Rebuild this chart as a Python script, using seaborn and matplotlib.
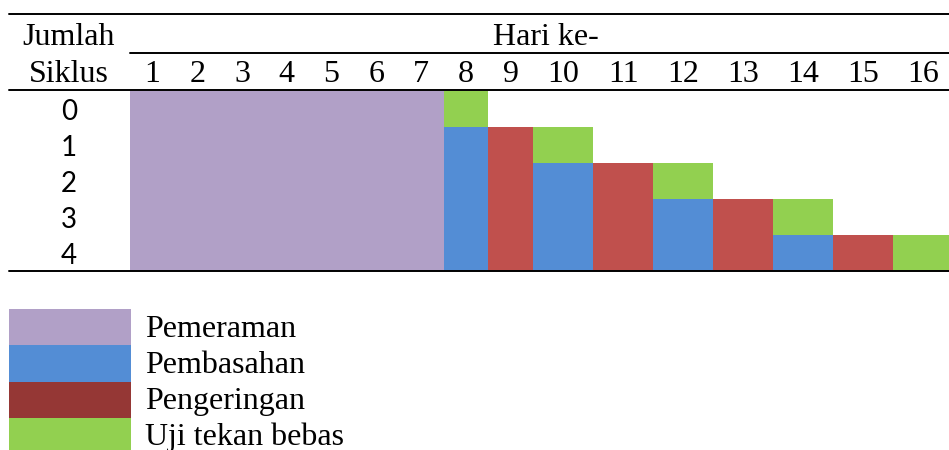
import matplotlib
matplotlib.use("Agg")
import matplotlib.pyplot as plt
import seaborn as sns
import numpy as np

# phases and colours
phases = ["Pemeraman", "Pembasahan", "Pengeringan", "Uji tekan bebas"]
phase_colors = ["#B1A0C7", "#538DD5", "#C0504D", "#92D050"]
legend_colors = ["#B1A0C7", "#538DD5", "#953735", "#92D050"]

cycles = [0, 1, 2, 3, 4]
days = list(range(1, 17))

# schedule: one entry per block (cycle row, phase index, first day, last day)
task_cycle = [0, 1, 2, 3, 4,
              0,
              1, 1, 1,
              2, 2, 2, 2, 2,
              3, 3, 3, 3, 3, 3, 3,
              4, 4, 4, 4, 4, 4, 4, 4, 4]
task_phase = [0, 0, 0, 0, 0,
              3,
              1, 2, 3,
              1, 2, 1, 2, 3,
              1, 2, 1, 2, 1, 2, 3,
              1, 2, 1, 2, 1, 2, 1, 2, 3]
task_start = [1, 1, 1, 1, 1,
              8,
              8, 9, 10,
              8, 9, 10, 11, 12,
              8, 9, 10, 11, 12, 13, 14,
              8, 9, 10, 11, 12, 13, 14, 15, 16]
task_end = [7, 7, 7, 7, 7,
            8,
            8, 9, 10,
            8, 9, 10, 11, 12,
            8, 9, 10, 11, 12, 13, 14,
            8, 9, 10, 11, 12, 13, 14, 15, 16]

# table layout (pixel units)
day_width = [44.8] * 9 + [60.0] * 7
grid_left = 130
edges = grid_left + np.concatenate([[0], np.cumsum(day_width)])
row_top = 91
row_h = 36

sns.set_theme(style="white")
plt.rcParams["font.family"] = ["Liberation Serif", "DejaVu Serif"]
plt.rcParams["text.color"] = "black"

fig = plt.figure(figsize=(9.49, 4.5), dpi=100)
ax = fig.add_axes([0, 0, 1, 1])
ax.set_xlim(0, 949)
ax.set_ylim(450, 0)
ax.axis("off")

# schedule blocks
for c, p, s, e in zip(task_cycle, task_phase, task_start, task_end):
    ax.barh(row_top + c * row_h, edges[e] - edges[s - 1], left=edges[s - 1],
            height=row_h, align="edge", color=phase_colors[p], linewidth=0,
            antialiased=False)

# table rules
lw = 1.4
ax.plot([9, 949], [14, 14], color="black", lw=lw)
ax.plot([grid_left, 949], [52.5, 52.5], color="black", lw=lw)
ax.plot([9, 949], [90, 90], color="black", lw=lw)
ax.plot([9, 949], [271, 271], color="black", lw=lw)

fs = 23
ax.text(69, 45, "Jumlah", ha="center", va="baseline", fontsize=fs)
ax.text(69, 82, "Siklus", ha="center", va="baseline", fontsize=fs)
ax.text(546, 45, "Hari ke-", ha="center", va="baseline", fontsize=fs)
for d in days:
    ax.text((edges[d - 1] + edges[d]) / 2, 82, str(d), ha="center",
            va="baseline", fontsize=fs)

for c in cycles:
    ax.text(69, row_top + c * row_h + 29, str(c), ha="center", va="baseline",
            fontsize=20, family=["Lato", "DejaVu Sans"])

# legend
for i, (lab, col) in enumerate(zip(phases, legend_colors)):
    ax.barh(308.5 + i * 36.5, 122, left=9, height=36.5, align="edge",
            color=col, linewidth=0, antialiased=False)
    ax.text(145, 337 + i * 36, lab, ha="left", va="baseline", fontsize=fs)

fig.savefig("out.png", dpi=100)
